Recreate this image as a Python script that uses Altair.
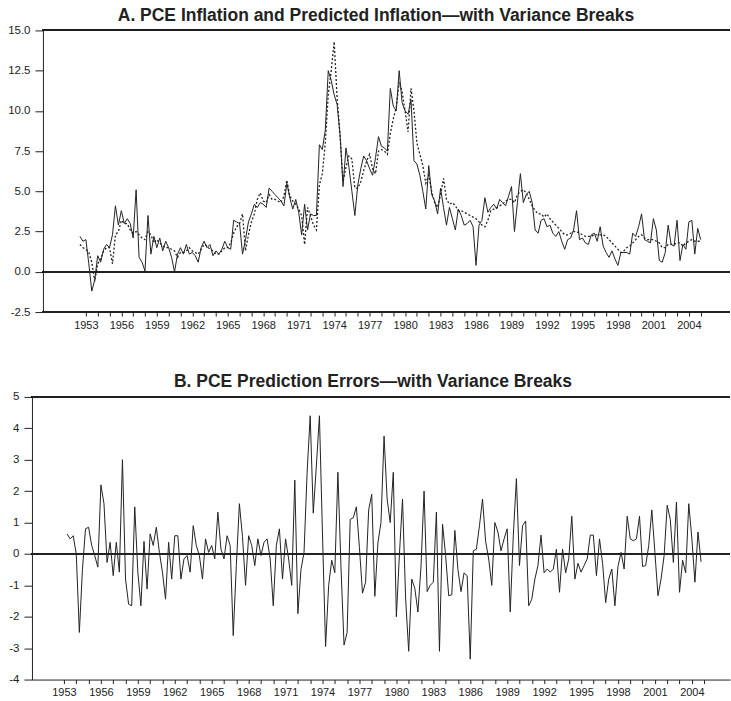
import altair as alt
import pandas as pd

# Panel A: quarterly PCE inflation (annualised %) and its prediction, from 1952 Q3
a_start_year = 1952.5
pce_actual = [
    2.2, 1.9, 2.0, 0.5, -1.2, -0.5, 1.0, 0.6, 1.4, 1.7,
    1.5, 2.3, 4.1, 2.9, 3.8, 3.0, 3.3, 3.0, 2.1, 5.1,
    0.9, 0.6, 0.05, 3.5, 1.1, 2.2, 1.5, 2.1, 1.3, 1.9,
    1.5, 0.9, 0.0, 1.1, 1.5, 1.1, 1.7, 1.1, 1.2, 1.0,
    0.6, 1.5, 1.9, 1.5, 1.7, 1.0, 1.3, 1.1, 1.4, 1.9,
    1.5, 1.4, 3.2, 3.1, 3.0, 1.1, 2.0, 3.1, 3.6, 4.2,
    4.0, 4.3, 4.2, 4.0, 5.2, 5.0, 4.8, 4.6, 4.4, 4.1,
    5.5, 4.6, 3.9, 4.5, 3.7, 2.3, 4.2, 2.6, 3.6, 3.5,
    3.5, 7.9, 7.6, 8.8, 12.5, 11.9, 11.0, 10.4, 8.5, 5.3,
    7.7, 6.5, 5.0, 3.5, 5.4, 6.4, 7.2, 6.9, 6.4, 6.0,
    7.1, 8.4, 7.8, 7.7, 7.5, 11.4, 10.3, 10.0, 12.5, 10.5,
    10.0, 9.8, 10.7, 6.9, 6.7, 6.0, 5.0, 3.9, 6.6, 4.8,
    4.4, 3.6, 5.2, 4.0, 2.9, 4.0, 3.3, 2.6, 3.9, 3.5,
    2.9, 3.0, 3.2, 2.8, 0.4, 2.9, 3.2, 4.6, 3.7, 4.0,
    4.2, 3.9, 4.5, 4.3, 4.1, 4.7, 5.3, 2.5, 4.3, 6.1,
    4.3, 4.8, 5.0, 4.3, 2.6, 2.4, 3.2, 3.3, 2.8, 2.9,
    2.4, 2.2, 2.5, 1.9, 1.4, 2.0, 2.1, 2.6, 3.8, 2.0,
    2.1, 1.8, 1.7, 2.3, 2.4, 1.9, 2.8, 1.6, 1.2, 0.9,
    1.3, 0.8, 0.4, 1.2, 1.2, 1.2, 1.1, 2.4, 2.2, 2.8,
    3.6, 2.0, 1.9, 1.8, 3.3, 2.6, 0.7, 0.6, 1.2, 2.9,
    1.7, 1.6, 3.2, 0.7, 1.7, 1.4, 3.1, 3.2, 1.1, 2.7, 2.0,
]
pce_predicted = [
    1.7, 1.5, 1.4, 1.2, 0.6, -0.6, 0.5, 0.8, 1.3, 1.5,
    1.5, 0.5, 2.3, 2.5, 3.2, 3.0, 3.0, 2.6, 2.4, 2.5,
    2.3, 2.1, 2.0, 2.5, 2.3, 1.8, 2.0, 1.8, 1.6, 1.5,
    1.5, 1.4, 1.3, 0.9, 1.2, 1.2, 1.3, 1.5, 1.3, 1.2,
    1.1, 1.4, 1.7, 1.6, 1.4, 1.3, 1.1, 1.1, 1.3, 1.5,
    1.5, 1.8, 2.4, 2.8, 3.0, 3.6, 1.3, 2.3, 3.1, 3.6,
    4.5, 4.9, 4.4, 4.3, 4.8, 4.5, 4.5, 4.4, 4.3, 4.7,
    5.7, 4.7, 4.4, 4.2, 3.9, 3.5, 1.7, 4.0, 3.5, 2.9,
    2.6, 5.4, 6.1, 8.0, 11.0, 12.5, 14.3, 10.8, 8.5, 5.6,
    6.5, 7.2, 7.0, 5.2, 5.2, 5.6, 6.3, 6.9, 7.3, 6.4,
    6.1, 7.5, 7.6, 7.5, 7.3, 8.6, 9.5, 10.2, 11.8, 11.2,
    10.0, 8.7, 11.4, 10.0, 8.0, 7.3, 6.6, 5.5, 6.0, 5.0,
    4.3, 4.0, 4.8, 5.8, 4.5, 4.2, 4.3, 4.1, 3.8, 3.8,
    3.7, 3.6, 3.5, 3.4, 3.3, 3.1, 2.9, 2.8, 3.2, 3.8,
    3.9, 4.0, 4.1, 4.2, 4.4, 4.5, 4.5, 4.3, 4.8, 5.0,
    5.1, 4.9, 4.5, 4.1, 3.8, 3.6, 3.6, 3.4, 3.6, 3.3,
    3.1, 2.9, 2.7, 2.5, 2.3, 2.3, 2.4, 2.5, 2.5, 2.4,
    2.3, 2.2, 2.2, 2.2, 2.3, 2.3, 2.3, 2.3, 2.2, 2.0,
    1.8, 1.6, 1.4, 1.2, 1.3, 1.5, 1.6, 1.8, 2.0, 2.2,
    2.3, 2.1, 2.0, 2.0, 2.0, 1.9, 1.8, 1.5, 1.5, 1.7,
    1.7, 1.7, 1.8, 1.8, 1.6, 1.8, 1.9, 2.0, 1.9, 1.9, 1.9,
]

# Panel B: quarterly prediction errors, from 1953 Q2
b_start_year = 1953.25
pred_errors = [
    0.64, 0.48, 0.58, 0.0, -2.5, -0.5, 0.8, 0.85, 0.27, -0.05,
    -0.42, 2.2, 1.6, -0.27, 0.37, -0.69, 0.37, -0.58, 3.0, -0.8,
    -1.6, -1.65, 1.5, -0.58, -1.65, 0.4, -1.12, 0.64, 0.27, 0.85,
    0.05, -0.58, -1.44, 0.37, -0.8, 0.58, 0.58, -0.8, -0.16, -0.05,
    -0.58, 0.9, 0.27, -0.05, -0.8, 0.48, 0.05, 0.27, -0.16, 1.33,
    0.16, -0.16, 0.58, 0.27, -2.6, -0.37, 1.6, 0.55, -1.0, 0.58,
    0.27, -0.37, 0.48, -0.05, 0.37, 0.48, -0.16, -1.65, 0.27, 0.8,
    -0.8, 0.48, -0.16, -1.0, 2.35, -1.9, -0.5, 0.05, 2.6, 4.4,
    1.3, 2.8, 4.4, 0.6, -2.95, -1.0, -0.2, -0.6, 2.6, -0.4,
    -2.9, -2.5, 1.1, 1.15, 1.5, 0.2, -1.25, -0.9, 1.4, 1.9,
    -1.35, 0.35, 1.0, 3.75, 1.75, 1.0, 2.6, -2.0, 0.0, 1.75,
    -1.4, -3.1, -0.8, -1.1, -1.85, -0.4, 2.0, -1.2, -1.0, -0.9,
    1.33, -3.1, 0.95, -0.05, -1.33, -1.3, 0.75, -0.5, -1.2, -0.6,
    -0.7, -3.35, 0.1, 0.15, 0.9, 1.75, 0.4, -0.16, -1.0, 1.0,
    0.7, 0.1, 0.48, 0.8, -1.85, 0.6, 2.4, -0.37, 0.9, 1.05,
    -1.65, -1.44, -0.8, -0.37, 0.6, -0.6, -0.48, -0.58, -0.48, 0.15,
    -1.22, 0.15, -0.6, -0.16, 1.2, -0.8, -0.3, -0.58, -0.37, -0.16,
    0.6, 0.6, -0.69, 0.48, -0.3, -1.55, -0.8, -0.48, -1.65, -0.4,
    0.05, -0.48, 1.2, 0.48, 0.42, 0.48, 1.2, -0.4, -0.37, 0.27,
    1.4, 0.05, -1.33, -0.8, -0.05, 1.55, 1.1, -0.27, 1.65, -1.22,
    -0.2, -0.6, 1.6, 0.5, -0.9, 0.7, -0.25,
]

a_y_ticks = [-2.5, 0.0, 2.5, 5.0, 7.5, 10.0, 12.5, 15.0]
b_y_ticks = [-4, -3, -2, -1, 0, 1, 2, 3, 4, 5]
year_ticks = list(range(1953, 2006))

title_a = "A. PCE Inflation and Predicted Inflation\u2014with Variance Breaks"
title_b = "B. PCE Prediction Errors\u2014with Variance Breaks"

df_a = pd.DataFrame({
    "t": [a_start_year + 0.25 * i for i in range(len(pce_actual))],
    "actual": pce_actual,
    "predicted": pce_predicted,
})
df_b = pd.DataFrame({
    "t": [b_start_year + 0.25 * i for i in range(len(pred_errors))],
    "err": pred_errors,
})

FONT = "Liberation Sans"
INK = "#222222"

x_label_expr = "(datum.value - 1953) % 3 == 0 ? datum.value : ''"


def x_axis(show_domain):
    return alt.Axis(values=year_ticks, labelExpr=x_label_expr, title=None,
                    grid=False, tickSize=4, labelPadding=3, labelFontSize=11,
                    labelFont=FONT, labelColor=INK, domain=show_domain,
                    domainColor=INK, tickColor=INK, labelFlush=False,
                    labelOverlap=False)


def x_enc(domain, show_domain):
    return alt.X("t:Q", scale=alt.Scale(domain=domain, nice=False, zero=False),
                 axis=x_axis(show_domain))


def y_axis(ticks, fmt, extent, offset):
    expr = "replace(format(datum.value, '%s'), '\u2212', '-')" % fmt
    return alt.Axis(values=ticks, labelExpr=expr, title=None, grid=False,
                    tickSize=8, labelPadding=5, labelFontSize=11.5,
                    labelFont=FONT, labelColor=INK, domainColor=INK,
                    tickColor=INK, labelOverlap=False, offset=offset,
                    minExtent=extent, maxExtent=extent)


def y_scale(domain):
    return alt.Scale(domain=domain, nice=False, zero=False)


# ---------------- Panel A ----------------
xa = [1948.44, 2007.48]          # plot area; the y axis is drawn at 1949.37
xa_axis_year = 1949.37
ya = [-2.5, 15]
ya_axis = y_axis(a_y_ticks, ".1f", 38, -11)

base_a = alt.Chart(df_a)
line_actual = base_a.mark_line(color=INK, strokeWidth=1).encode(
    x=x_enc(xa, False), y=alt.Y("actual:Q", scale=y_scale(ya), axis=ya_axis))
line_pred = base_a.mark_line(color=INK, strokeWidth=1.3, strokeDash=[2, 2]).encode(
    x=x_enc(xa, False), y=alt.Y("predicted:Q", scale=y_scale(ya), axis=ya_axis))


def rule_a(value):
    return alt.Chart(df_a).mark_rule(color=INK, strokeWidth=1).encode(
        x=alt.XDatum(xa_axis_year, scale=alt.Scale(domain=xa, nice=False, zero=False),
                     axis=x_axis(False)),
        x2=alt.X2Datum(xa[1]),
        y=alt.YDatum(value, scale=y_scale(ya), axis=ya_axis))


panel_a = alt.layer(
    line_actual, line_pred, rule_a(15), rule_a(0), rule_a(-2.5),
).properties(
    width=699, height=282,
    title=alt.TitleParams(title_a, font=FONT, fontSize=17.5, fontWeight="bold",
                          color=INK, anchor="middle", dx=-5, offset=0),
)

# ---------------- Panel B ----------------
xb = [1950.40, 2007.1]
yb = [-4, 5]
yb_axis = y_axis(b_y_ticks, "d", 27, 0)

base_b = alt.Chart(df_b)
line_err = base_b.mark_line(color=INK, strokeWidth=1).encode(
    x=x_enc(xb, True), y=alt.Y("err:Q", scale=y_scale(yb), axis=yb_axis))


def rule_b(value):
    return alt.Chart(df_b).mark_rule(color=INK, strokeWidth=1).encode(
        y=alt.YDatum(value, scale=y_scale(yb), axis=yb_axis))


panel_b = alt.layer(line_err, rule_b(5), rule_b(0)).properties(
    width=699, height=283,
    title=alt.TitleParams(title_b, font=FONT, fontSize=17.5, fontWeight="bold",
                          color=INK, anchor="middle", dx=-8, offset=0),
)

chart = alt.concat(panel_a, panel_b, columns=1, spacing=43).properties(
    padding={"left": 5, "top": 6, "right": 0, "bottom": 0},
    background="white",
).configure_view(stroke=None)

chart.save("out.html", embed_options={"renderer": "svg", "actions": False})
